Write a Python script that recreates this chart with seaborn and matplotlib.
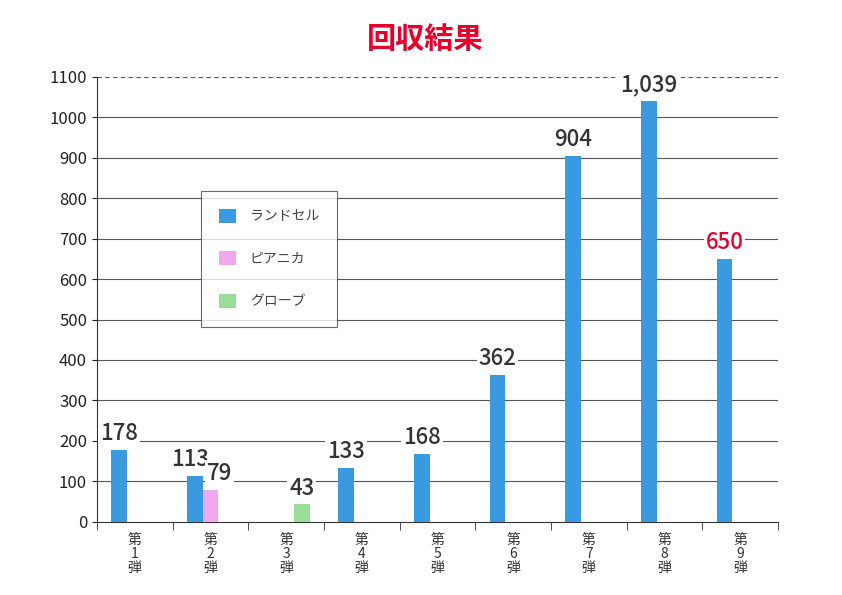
import matplotlib
matplotlib.use("Agg")
import matplotlib.pyplot as plt
import seaborn as sns
import pandas as pd
import numpy as np

plt.rcParams["font.family"] = ["Noto Sans CJK JP"]

rounds = ["第\n1\n弾", "第\n2\n弾", "第\n3\n弾", "第\n4\n弾", "第\n5\n弾", "第\n6\n弾", "第\n7\n弾", "第\n8\n弾", "第\n9\n弾"]
series = ["ランドセル", "ピアニカ", "グローブ"]
randoseru = [178, 113, np.nan, 133, 168, 362, 904, 1039, 650]
pianika = [np.nan, 79, np.nan, np.nan, np.nan, np.nan, np.nan, np.nan, np.nan]
glove = [np.nan, np.nan, 43, np.nan, np.nan, np.nan, np.nan, np.nan, np.nan]
labels_r = ["178", "113", None, "133", "168", "362", "904", "1,039", "650"]
colors = ["#3a9ae0", "#f0a8f0", "#99dd99"]

rows = []
for i, r in enumerate(rounds):
    for s, vals in zip(series, [randoseru, pianika, glove]):
        rows.append({"round": r, "series": s, "value": vals[i]})
df = pd.DataFrame(rows)

fig = plt.figure(figsize=(8.42, 5.95), dpi=100)
ax = fig.add_axes([0.115, 0.123, 0.809, 0.748])
sns.barplot(data=df, x="round", y="value", hue="series", hue_order=series,
            palette=colors, width=0.62, ax=ax, saturation=1, zorder=3)
ax.set_ylim(0, 1100)
ax.set_xlim(-0.5, 8.5)
ax.set_yticks(range(0, 1101, 100))
for v in range(100, 1001, 100):
    ax.axhline(v, color="#555555", lw=0.8, zorder=1)
ax.axhline(1100, color="#555555", lw=0.8, ls=(0, (4, 3)), zorder=1)
for s in ["top", "right"]:
    ax.spines[s].set_visible(False)
ax.spines["left"].set_color("#333333")
ax.spines["bottom"].set_color("#333333")
ax.set_xlabel(""); ax.set_ylabel("")
ax.tick_params(axis="x", length=0, labelsize=10, pad=8, colors="#333333")
ax.tick_params(axis="y", labelsize=12, colors="#222222")
ax.set_xticks(np.arange(-0.5, 9, 1), minor=True)
ax.tick_params(axis="x", which="minor", length=6, color="#333333")
for lab in ax.get_xticklabels():
    lab.set_linespacing(1.0)

off = 0.62 / 3
box = dict(facecolor="white", edgecolor="none", pad=1.5)
kw = dict(ha="center", va="bottom", fontsize=16, fontweight="medium", bbox=box, zorder=4)
for i, t in enumerate(labels_r):
    if t is None:
        continue
    c = "#e8002d" if i == 8 else "#333333"
    dx = -0.06 if i == 1 else 0
    ax.text(i - off + dx, randoseru[i] + 12, t, color=c, **kw)
ax.text(1 + 0.12, pianika[1] + 12, "79", color="#333333", **kw)
ax.text(2 + off, glove[2] + 12, "43", color="#333333", **kw)

leg = ax.legend(loc="upper left", bbox_to_anchor=(0.143, 0.76), frameon=True, fancybox=False,
                fontsize=10, handlelength=1.2, handleheight=1.2, labelspacing=2.0,
                borderpad=1.3, handletextpad=1.0)
leg.get_frame().set_edgecolor("#444444")
leg.get_frame().set_linewidth(0.8)
for t in leg.get_texts():
    t.set_color("#444444")

fig.text(0.505, 0.935, "回収結果", ha="center", va="center", fontsize=21,
         fontweight="bold", color="#e8002d")
fig.savefig("out.png", dpi=100)
